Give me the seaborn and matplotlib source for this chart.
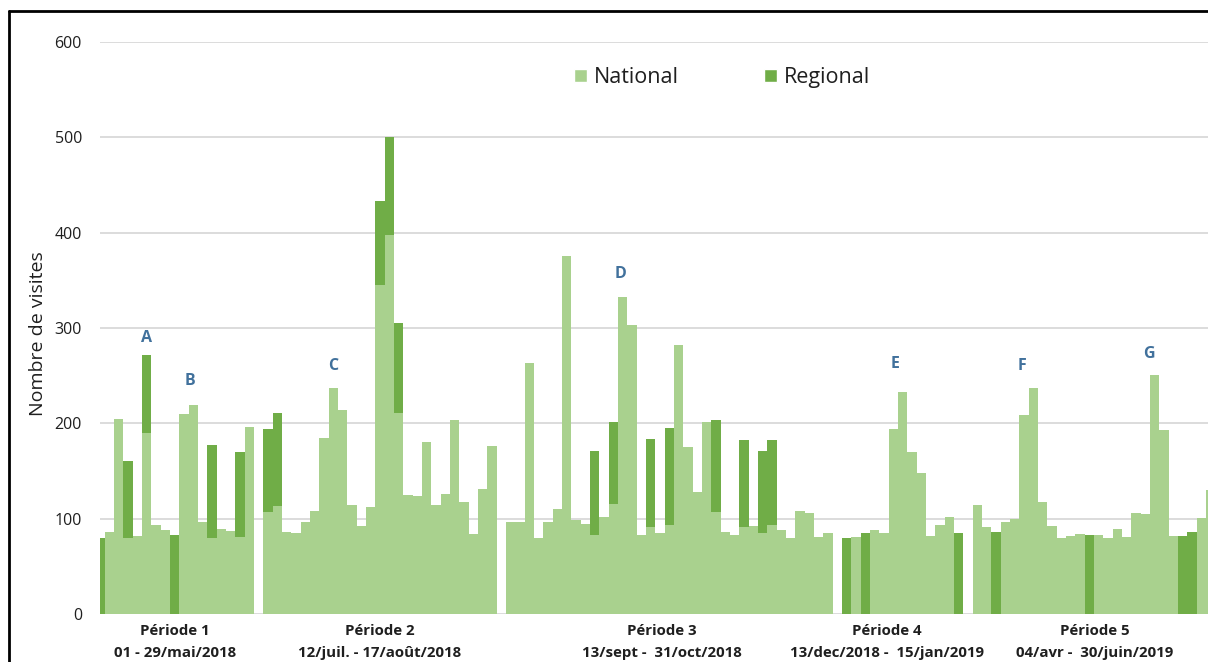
import numpy as np
import pandas as pd
import seaborn as sns
import matplotlib
matplotlib.use("Agg")
import matplotlib.pyplot as plt
import matplotlib.transforms as mtransforms
from matplotlib.patches import Patch
from matplotlib.lines import Line2D

# ---------------- data ----------------
period_names = ["Période 1", "Période 2", "Période 3", "Période 4", "Période 5"]
period_dates = ["01 - 29/mai/2018", "12/juil. - 17/août/2018", "13/sept -  31/oct/2018",
                "13/dec/2018 -  15/jan/2019", "04/avr -  30/juin/2019"]

p1_national = [0, 86, 205, 80, 82, 190, 93, 88, 0, 210, 219, 96, 80, 89, 87, 81, 196]
p1_regional = [80, 0, 0, 80, 0, 82, 0, 0, 83, 0, 0, 0, 97, 0, 0, 89, 0]

p2_national = [107, 113, 86, 85, 96, 108, 185, 237, 214, 114, 92, 112, 345, 398, 211,
               125, 124, 180, 114, 126, 203, 118, 84, 131, 176]
p2_regional = [87, 98, 0, 0, 0, 0, 0, 0, 0, 0, 0, 0, 88, 102, 94,
               0, 0, 0, 0, 0, 0, 0, 0, 0, 0]

p3_national = [97, 96, 263, 80, 97, 110, 376, 99, 94, 83, 102, 115, 332, 303, 83, 91, 85,
               93, 282, 175, 128, 201, 107, 86, 83, 91, 92, 85, 93, 88, 80, 108, 106, 81, 85]
p3_regional = [0, 0, 0, 0, 0, 0, 0, 0, 0, 88, 0, 86, 0, 0, 0, 93, 0,
               102, 0, 0, 0, 0, 97, 0, 0, 91, 0, 86, 89, 0, 0, 0, 0, 0, 0]

p4_national = [0, 81, 0, 88, 85, 194, 233, 170, 148, 82, 93, 102, 0]
p4_regional = [80, 0, 85, 0, 0, 0, 0, 0, 0, 0, 0, 0, 85]

p5_national = [114, 91, 0, 97, 100, 209, 237, 118, 92, 80, 82, 84, 0, 83, 80, 89, 81,
               106, 105, 251, 193, 82, 0, 0, 101, 130]
p5_regional = [0, 0, 86, 0, 0, 0, 0, 0, 0, 0, 0, 0, 83, 0, 0, 0, 0,
               0, 0, 0, 0, 0, 82, 86, 0, 0]

annot_letters = ["A", "B", "C", "D", "E", "F", "G"]

national_by_period = [p1_national, p2_national, p3_national, p4_national, p5_national]
regional_by_period = [p1_regional, p2_regional, p3_regional, p4_regional, p5_regional]

# ---------------- layout of slots (one empty day between periods) ----------------
rows = []
slot = 0
for k, (nat, reg) in enumerate(zip(national_by_period, regional_by_period)):
    for n, r in zip(nat, reg):
        rows.append(dict(slot=slot, period=k, national=n, regional=r))
        slot += 1
    slot += 1
df = pd.DataFrame(rows)
df["total"] = df["national"] + df["regional"]

LIGHT = "#A9D18E"
DARK = "#70AD47"
BLUE = "#41719C"
TXT = "#1f1f1f"

sns.set_theme(style="white")
plt.rcParams["font.family"] = ["Open Sans", "DejaVu Sans"]

W, H = 1208, 662
fig = plt.figure(figsize=(W / 100, H / 100), dpi=100)
ax = fig.add_axes([100 / W, 48 / H, 1108 / W, 572 / H])

sns.barplot(data=df, x="slot", y="total", native_scale=True, width=1.0, color=DARK,
            saturation=1, linewidth=0, errorbar=None, ax=ax)
sns.barplot(data=df, x="slot", y="national", native_scale=True, width=1.0, color=LIGHT,
            saturation=1, linewidth=0, errorbar=None, ax=ax)

ax.set_xlim(0, 1108 / 9.333)
ax.set_ylim(0, 600)
ax.set_yticks(range(0, 601, 100))
ax.set_xticks([])
ax.set_xlabel("")
ax.yaxis.grid(True, color="#D9D9D9", lw=1.3)
ax.set_axisbelow(True)
for s in ax.spines.values():
    s.set_visible(False)
ax.tick_params(axis="y", length=0, pad=13, labelsize=11.5, labelcolor=TXT)

ax.set_ylabel("Nombre de visites", fontsize=14, color=TXT)
ax.yaxis.set_label_coords(-0.048, 0.49)

# legend
handles = [Patch(facecolor=LIGHT, label="National"), Patch(facecolor=DARK, label="Regional")]
ax.legend(handles=handles, ncol=2, frameon=False, loc="center",
          bbox_to_anchor=(0.5614, 0.938), fontsize=15.5, handlelength=0.6, handleheight=0.6,
          handletextpad=0.33, columnspacing=3.95, labelcolor=TXT)

# annotation letters above peaks
annot_x = [5.0, 9.6, 25.0, 55.8, 85.2, 98.75, 112.4]
annot_y = [290, 244, 260, 357, 262, 260, 273]
for lt, x, y in zip(annot_letters, annot_x, annot_y):
    ax.text(x, y, lt, color=BLUE, fontweight="bold", ha="center", va="center", fontsize=11.5)

# period labels under the axis
trans = mtransforms.blended_transform_factory(ax.transData, ax.transAxes)
label_x = [8.0, 30.0, 60.2, 84.3, 106.6]
for name, dates, x in zip(period_names, period_dates, label_x):
    ax.text(x, -0.0297, name, transform=trans, ha="center", va="center",
            fontweight="bold", fontsize=10.8, color=TXT)
    ax.text(x, -0.0682, dates, transform=trans, ha="center", va="center",
            fontweight="bold", fontsize=10.8, color=TXT)

# frame of the cropped document
fig.add_artist(Line2D([9 / W, 9 / W], [0, 1 - 11 / H], transform=fig.transFigure, color="black", lw=2))
fig.add_artist(Line2D([9 / W, 1], [1 - 11 / H, 1 - 11 / H], transform=fig.transFigure, color="black", lw=2))

fig.savefig("out.png", dpi=100)
